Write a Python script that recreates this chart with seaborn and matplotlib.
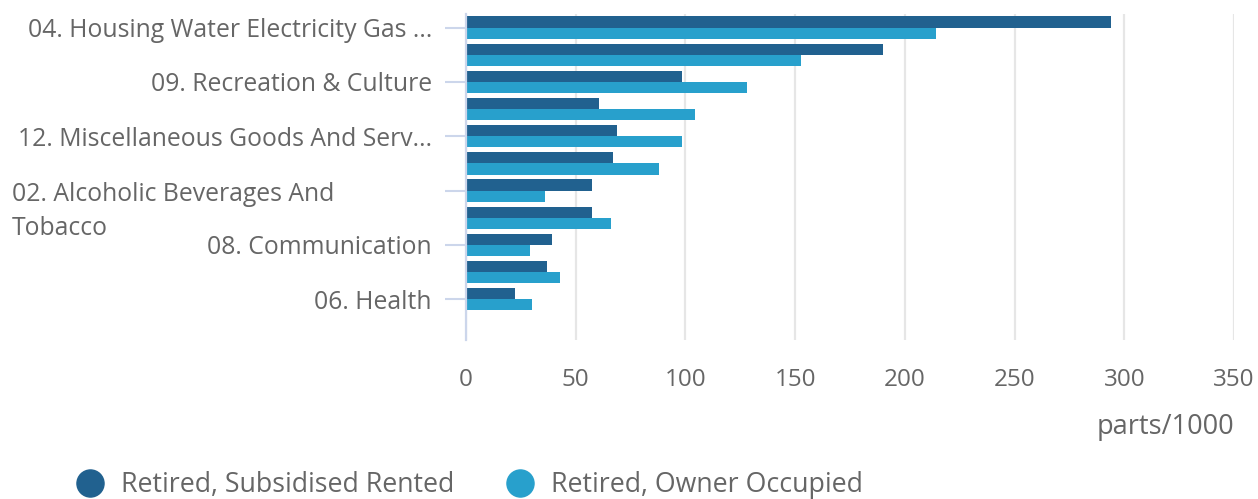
import numpy as np
import pandas as pd
import matplotlib
matplotlib.use("Agg")
import matplotlib.pyplot as plt
import matplotlib.transforms as mtransforms
from matplotlib.lines import Line2D
import seaborn as sns

# ---- data ----
categories = [
    "04. Housing Water Electricity Gas ...",
    "01. Food & Non-Alcoholic Beverages",
    "09. Recreation & Culture",
    "07. Transport",
    "12. Miscellaneous Goods And Serv...",
    "05. Furnishings & Household Equipment",
    "02. Alcoholic Beverages And Tobacco",
    "11. Restaurants & Hotels",
    "08. Communication",
    "03. Clothing & Footwear",
    "06. Health",
    "10. Education",
]
subsidised_rented = [294, 190, 98.5, 60.5, 69, 67, 57.5, 57.5, 39, 37, 22.5, np.nan]
owner_occupied = [214, 152.5, 128, 104.5, 98.5, 88, 36, 66, 29, 43, 30, np.nan]
series_names = ["Retired, Subsidised Rented", "Retired, Owner Occupied"]
series_colors = ["#21618f", "#28a0cc"]
x_ticks = [0, 50, 100, 150, 200, 250, 300, 350]
x_label = "parts/1000"
labeled_every = 2

df = pd.DataFrame({
    "category": categories * 2,
    "value": subsidised_rented + owner_occupied,
    "series": [series_names[0]] * len(categories) + [series_names[1]] * len(categories),
})

sns.set_style("white")
plt.rcParams["font.family"] = ["Open Sans", "DejaVu Sans"]

W, H = 1258, 499
fig = plt.figure(figsize=(W / 100, H / 100), dpi=100)
ax = fig.add_axes([466 / W, 1 - 340 / H, (1234 - 466) / W, (340 - 14) / H])

sns.barplot(data=df, y="category", x="value", hue="series", order=categories,
            hue_order=series_names, palette=series_colors, orient="h",
            width=0.82, linewidth=0, saturation=1, ax=ax, legend=False)

text_color = "#666666"
axis_color = "#ccd6eb"
ylab_size = 17.8

ax.set_xlim(0, 350)
ax.set_ylim(len(categories) - 0.5, -0.5)
ax.set_xticks(x_ticks)
ax.set_xticklabels([str(t) for t in x_ticks])
ax.tick_params(axis="x", bottom=False, length=0, pad=20, labelsize=17.5, labelcolor=text_color)
ax.grid(axis="x", color="#e6e6e6", linewidth=1.6)
ax.grid(axis="y", visible=False)
ax.set_axisbelow(True)
for s in ["top", "right", "bottom"]:
    ax.spines[s].set_visible(False)
ax.spines["left"].set_color(axis_color)
ax.spines["left"].set_linewidth(1.6)

# category ticks: every other label
tick_idx = list(range(0, len(categories), labeled_every))
ax.set_yticks(tick_idx)
labels = []
wrapped = []
for i in tick_idx:
    name = categories[i]
    if name.startswith("02."):
        labels.append("")
        wrapped.append((i, ["02. Alcoholic Beverages And", "Tobacco"]))
    else:
        labels.append(name)
ax.set_yticklabels(labels)
ax.tick_params(axis="y", left=True, length=15, width=1.5, color=axis_color, pad=9.5,
               labelsize=ylab_size, labelcolor=text_color, direction="out")
ax.set_ylabel("")

# wrapped label drawn line by line, left-aligned near the figure edge
trans = mtransforms.blended_transform_factory(fig.transFigure, ax.transData)
line_step = 1.26  # rows between wrapped lines
for i, lines in wrapped:
    for k, line in enumerate(lines):
        ax.text(12 / W, i + 0.15 + k * line_step, line, transform=trans, ha="left",
                va="center", fontsize=ylab_size, color=text_color)

ax.set_xlabel(x_label, loc="right", fontsize=19.5, color=text_color, labelpad=15)

handles = [Line2D([0], [0], marker="o", linestyle="", markersize=19.5,
                  markerfacecolor=c, markeredgecolor=c) for c in series_colors]
fig.legend(handles, series_names, loc="center left", bbox_to_anchor=(75 / W, 1 - 485 / H),
           ncol=2, frameon=False, fontsize=19.3, labelcolor=text_color,
           handletextpad=0.6, columnspacing=1.93, borderaxespad=0, borderpad=0,
           handlelength=1.1)

fig.savefig("out.png", dpi=100)
